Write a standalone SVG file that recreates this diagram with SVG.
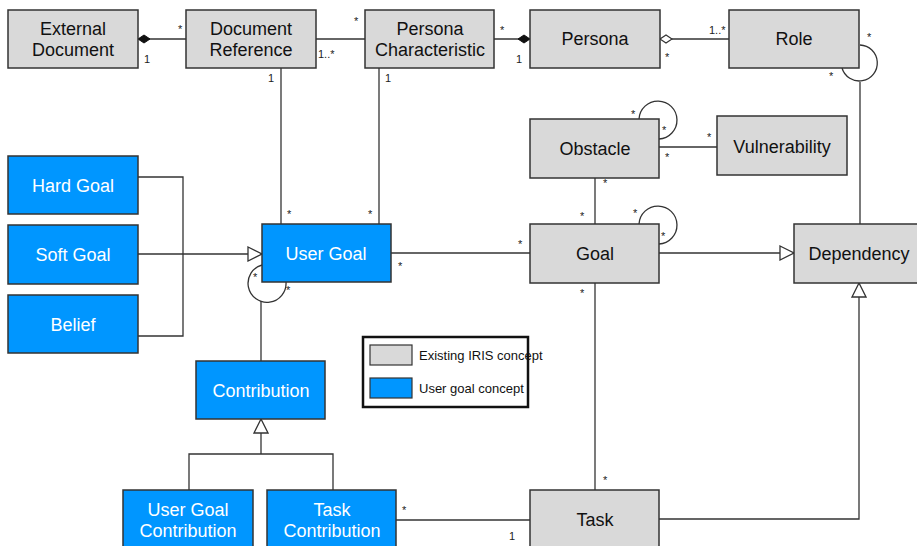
<svg xmlns="http://www.w3.org/2000/svg" width="917" height="546" viewBox="0 0 917 546">
<defs>
<style>
.g rect{fill:#d9d9d9;stroke:#333;stroke-width:1.5}
.b rect{fill:#0096ff;stroke:#333;stroke-width:1.5}
.g text{fill:#111;font-family:"Liberation Sans",Arial,sans-serif;font-size:18px;text-anchor:middle}
.b text{fill:#fff;font-family:"Liberation Sans",Arial,sans-serif;font-size:18px;text-anchor:middle}
#connectors path,#connectors line{fill:none;stroke:#333;stroke-width:1.3}
.m{font-family:"Liberation Sans",Arial,sans-serif;font-size:11px;fill:#222}
.lg{font-family:"Liberation Sans",Arial,sans-serif;font-size:13px;fill:#111}
</style>
<marker id="tri" markerWidth="16" markerHeight="16" refX="15" refY="8" orient="auto" markerUnits="userSpaceOnUse">
<path d="M1,1 L15,8 L1,15 Z" fill="#fff" stroke="#333" stroke-width="1.3"/>
</marker>
<marker id="fd" markerWidth="14" markerHeight="10" refX="1" refY="5" orient="auto" markerUnits="userSpaceOnUse">
<path d="M1,5 L7,1 L13,5 L7,9 Z" fill="#111" stroke="#111"/>
</marker>
<marker id="od" markerWidth="14" markerHeight="10" refX="1" refY="5" orient="auto" markerUnits="userSpaceOnUse">
<path d="M1,5 L7,1 L13,5 L7,9 Z" fill="#fff" stroke="#333" stroke-width="1.2"/>
</marker>
</defs>
<rect width="917" height="546" fill="#fff"/>

<g id="connectors">
<line x1="138" y1="39" x2="186" y2="39" marker-start="url(#fd)"/>
<line x1="316" y1="39" x2="365" y2="39"/>
<line x1="530" y1="39" x2="494" y2="39" marker-start="url(#fd)"/>
<line x1="660" y1="39" x2="729" y2="39" marker-start="url(#od)"/>
<path d="M860,45 A18,18 0 1 1 842,68"/>
<line x1="860" y1="82" x2="860" y2="224"/>
<line x1="281" y1="68" x2="281" y2="224"/>
<line x1="379" y1="68" x2="379" y2="224"/>
<line x1="391" y1="253" x2="530" y2="253"/>
<path d="M639,119 A19,19 0 1 1 659,139"/>
<line x1="659" y1="147" x2="717" y2="147"/>
<line x1="595" y1="178" x2="595" y2="224"/>
<path d="M639,224 A19,19 0 1 1 659,244"/>
<line x1="659" y1="253" x2="794" y2="253" marker-end="url(#tri)"/>
<line x1="595" y1="283" x2="595" y2="490"/>
<path d="M659,519 L859,519 L859,283" marker-end="url(#tri)"/>
<line x1="396" y1="520" x2="530" y2="520"/>
<path d="M138,177 L183,177 L183,336 L138,336"/>
<line x1="138" y1="254" x2="262" y2="254" marker-end="url(#tri)"/>
<path d="M262,265 A19,19 0 1 0 286,282"/>
<line x1="261" y1="301" x2="261" y2="361"/>
<path d="M189,490 L189,454 L333,454 L333,490"/>
<line x1="261" y1="454" x2="261" y2="419" marker-end="url(#tri)"/>
</g>

<g id="labels">
<text class="m" x="178" y="33">*</text>
<text class="m" x="144" y="63">1</text>
<text class="m" x="318" y="58">1..*</text>
<text class="m" x="354" y="25">*</text>
<text class="m" x="500" y="34">*</text>
<text class="m" x="516" y="63">1</text>
<text class="m" x="709" y="34">1..*</text>
<text class="m" x="665" y="61">*</text>
<text class="m" x="867" y="41">*</text>
<text class="m" x="829" y="80">*</text>
<text class="m" x="268" y="82">1</text>
<text class="m" x="385" y="82">1</text>
<text class="m" x="287" y="218">*</text>
<text class="m" x="368" y="218">*</text>
<text class="m" x="398" y="270">*</text>
<text class="m" x="518" y="248">*</text>
<text class="m" x="631" y="118">*</text>
<text class="m" x="662" y="134">*</text>
<text class="m" x="707" y="141">*</text>
<text class="m" x="665" y="161">*</text>
<text class="m" x="603" y="187">*</text>
<text class="m" x="580" y="220">*</text>
<text class="m" x="633" y="217">*</text>
<text class="m" x="661" y="240">*</text>
<text class="m" x="580" y="297">*</text>
<text class="m" x="603" y="484">*</text>
<text class="m" x="402" y="514">*</text>
<text class="m" x="509" y="540">1</text>
<text class="m" x="253" y="281">*</text>
<text class="m" x="286" y="294">*</text>
</g>

<g id="ExternalDocument" class="g"><rect x="8" y="10" width="130" height="58"/><text x="73" y="35">External</text><text x="73" y="56">Document</text></g>
<g id="DocumentReference" class="g"><rect x="186" y="10" width="130" height="58"/><text x="251" y="35">Document</text><text x="251" y="56">Reference</text></g>
<g id="PersonaCharacteristic" class="g"><rect x="365" y="10" width="129" height="58"/><text x="430" y="35">Persona</text><text x="430" y="56">Characteristic</text></g>
<g id="Persona" class="g"><rect x="530" y="10" width="130" height="58"/><text x="595" y="45">Persona</text></g>
<g id="Role" class="g"><rect x="729" y="10" width="130" height="58"/><text x="794" y="45">Role</text></g>
<g id="Obstacle" class="g"><rect x="530" y="119" width="129" height="59"/><text x="595" y="155">Obstacle</text></g>
<g id="Vulnerability" class="g"><rect x="717" y="116" width="130" height="59"/><text x="782" y="153">Vulnerability</text></g>
<g id="Goal" class="g"><rect x="530" y="224" width="129" height="59"/><text x="595" y="260">Goal</text></g>
<g id="Dependency" class="g"><rect x="794" y="224" width="126" height="59"/><text x="859" y="260">Dependency</text></g>
<g id="Task" class="g"><rect x="530" y="490" width="129" height="60"/><text x="595" y="526">Task</text></g>

<g id="HardGoal" class="b"><rect x="8" y="156" width="130" height="58"/><text x="73" y="192">Hard Goal</text></g>
<g id="SoftGoal" class="b"><rect x="8" y="225" width="130" height="59"/><text x="73" y="261">Soft Goal</text></g>
<g id="Belief" class="b"><rect x="8" y="295" width="130" height="58"/><text x="73" y="331">Belief</text></g>
<g id="UserGoal" class="b"><rect x="262" y="224" width="129" height="58"/><text x="326" y="260">User Goal</text></g>
<g id="Contribution" class="b"><rect x="196" y="361" width="129" height="58"/><text x="261" y="397">Contribution</text></g>
<g id="UserGoalContribution" class="b"><rect x="123" y="490" width="130" height="60"/><text x="188" y="516">User Goal</text><text x="188" y="537">Contribution</text></g>
<g id="TaskContribution" class="b"><rect x="267" y="490" width="129" height="60"/><text x="332" y="516">Task</text><text x="332" y="537">Contribution</text></g>

<g id="Legend">
<rect x="363" y="337" width="165" height="70" fill="#fff" stroke="#111" stroke-width="2.5"/>
<rect x="370" y="345" width="42" height="20" fill="#d9d9d9" stroke="#333" stroke-width="1.2"/>
<rect x="370" y="378" width="42" height="20" fill="#0096ff" stroke="#333" stroke-width="1.2"/>
<text class="lg" x="419" y="360">Existing IRIS concept</text>
<text class="lg" x="419" y="393">User goal concept</text>
</g>
</svg>
